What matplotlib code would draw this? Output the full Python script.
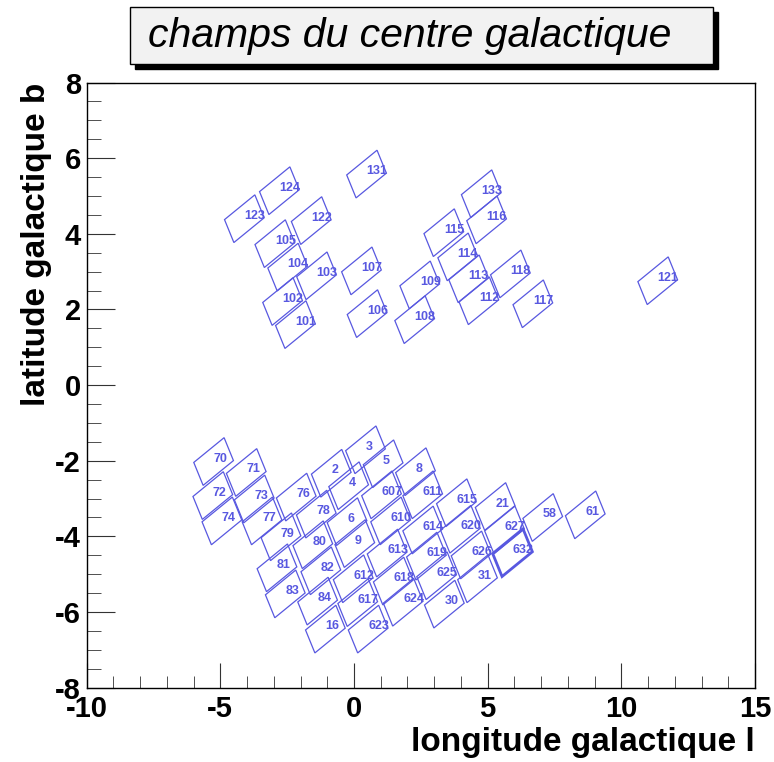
import numpy as np
import matplotlib
matplotlib.use("Agg")
import matplotlib.pyplot as plt
from matplotlib.patches import Polygon, Rectangle

plt.rcParams['font.family'] = ['Liberation Sans', 'DejaVu Sans']
plt.rcParams['axes.unicode_minus'] = False

# field centres (galactic l, b in degrees)
field_ids = ['131', '124', '123', '122', '105', '104', '103', '107', '102', '101', '106',
             '133', '116', '115', '114', '113', '112', '118', '117', '109', '108', '121',
             '70', '71', '72', '73', '74', '77', '76', '2', '3', '5', '4', '607', '611', '8',
             '78', '6', '610', '614', '79', '80', '9', '613', '619', '81', '82', '612', '618',
             '625', '83', '84', '617', '624', '30', '16', '623', '615', '620', '21', '627',
             '626', '632', '31', '58', '61']
field_l = [0.47, -2.79, -4.10, -1.60, -2.96, -2.48, -1.40, 0.28, -2.67, -2.19, 0.49,
           4.76, 4.96, 3.36, 3.88, 4.29, 4.67, 5.85, 6.69, 2.46, 2.27, 11.36,
           -5.25, -4.03, -5.28, -3.73, -4.94, -3.44, -2.16, -0.85, 0.43, 1.09, -0.20, 1.03, 2.57, 2.30,
           -1.41, -0.26, 1.37, 2.57, -2.73, -1.54, 0.03, 1.24, 2.71, -2.88, -1.24, -0.03, 1.47,
           3.09, -2.57, -1.36, 0.14, 1.84, 3.38, -1.07, 0.53, 3.83, 3.98, 5.28, 5.63,
           4.38, 5.93, 4.62, 7.06, 8.65]
field_b = [5.58, 5.14, 4.40, 4.35, 3.74, 3.12, 2.89, 3.02, 2.21, 1.60, 1.89,
           5.06, 4.37, 4.03, 3.39, 2.81, 2.23, 2.94, 2.15, 2.65, 1.73, 2.76,
           -2.02, -2.31, -2.92, -3.01, -3.59, -3.59, -2.96, -2.33, -1.71, -2.08, -2.66, -2.90, -2.90, -2.29,
           -3.41, -3.61, -3.59, -3.83, -4.01, -4.22, -4.19, -4.44, -4.52, -4.83, -4.91, -5.12, -5.18,
           -5.04, -5.52, -5.71, -5.75, -5.74, -5.79, -6.45, -6.45, -3.11, -3.81, -3.21, -3.83,
           -4.49, -4.43, -5.12, -3.50, -3.43]
highlight = '632'

# field geometry (degrees)
FIELD_LEN = 1.31
FIELD_WID = 0.70
FIELD_ANGLE = np.radians(30)
BLUE = '#5858e0'

fig = plt.figure(figsize=(7.74, 7.62), dpi=100)
ax = fig.add_axes([0.1119, 0.0975, 0.9755 - 0.1119, 0.8917 - 0.0975])

u = np.array([np.cos(FIELD_ANGLE), np.sin(FIELD_ANGLE)]) * FIELD_LEN / 2
v = np.array([np.sin(FIELD_ANGLE), -np.cos(FIELD_ANGLE)]) * FIELD_WID / 2
for name, l, b in zip(field_ids, field_l, field_b):
    c = np.array([l, b])
    corners = [c - u - v, c + u - v, c + u + v, c - u + v]
    lw = 2.0 if name == highlight else 0.9
    ax.add_patch(Polygon(corners, closed=True, fill=False, edgecolor=BLUE, lw=lw))
    ax.text(l, b, name, color=BLUE, fontsize=9, fontweight='bold',
            ha='left', va='baseline')

ax.set_xlim(-10, 15)
ax.set_ylim(-8, 8)
ax.set_xticks(np.arange(-10, 16, 5))
ax.set_xticks(np.arange(-10, 16, 1), minor=True)
ax.set_yticks(np.arange(-8, 9, 2))
ax.set_yticks(np.arange(-8, 8.1, 0.5), minor=True)
ax.tick_params(axis='both', which='both', direction='in', top=False, right=False,
               labelsize=21, color='#333333')
ax.tick_params(axis='x', which='major', length=18, pad=5)
ax.tick_params(axis='x', which='minor', length=9)
ax.tick_params(axis='y', which='major', length=20, pad=4)
ax.tick_params(axis='y', which='minor', length=10)
for lab in ax.get_xticklabels() + ax.get_yticklabels():
    lab.set_fontweight('bold')
for sp in ax.spines.values():
    sp.set_linewidth(1.0)

ax.set_xlabel('longitude galactique l', fontsize=24, fontweight='bold', loc='right', labelpad=3)
ax.set_ylabel('latitude galactique b', fontsize=24, fontweight='bold', loc='top', labelpad=2)

# title box with shadow
W, H = 774.0, 762.0
fig.patches.append(Rectangle((135 / W, 1 - 69 / H), 583 / W, 57 / H, transform=fig.transFigure,
                             facecolor='black', edgecolor='black', zorder=1))
fig.patches.append(Rectangle((130 / W, 1 - 64 / H), 583 / W, 57 / H, transform=fig.transFigure,
                             facecolor='#f2f2f2', edgecolor='black', lw=1, zorder=2))
fig.text(410 / W, 1 - 47 / H, 'champs du centre galactique', fontsize=29.5, style='italic',
         ha='center', va='baseline', zorder=3)

fig.savefig('out.png', dpi=100, facecolor='white')
